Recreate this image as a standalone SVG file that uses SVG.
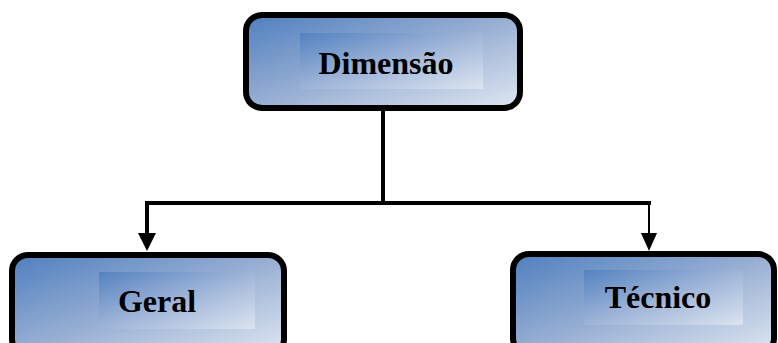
<svg xmlns="http://www.w3.org/2000/svg" width="778" height="343" viewBox="0 0 778 343">
<defs>
<linearGradient id="g" x1="0" y1="0" x2="1" y2="1">
<stop offset="0" stop-color="#4f7fbf"/>
<stop offset="0.5" stop-color="#98afd3"/>
<stop offset="1" stop-color="#dfe7f2"/>
</linearGradient>
<linearGradient id="gi" x1="0" y1="0" x2="1" y2="1">
<stop offset="0" stop-color="#4f7fbf"/>
<stop offset="0.5" stop-color="#9fb5d8"/>
<stop offset="1" stop-color="#dfe7f2"/>
</linearGradient>
</defs>
<style>
.box{fill:url(#g);stroke:#000;stroke-width:6}
.inner{fill:url(#gi);opacity:0.85}
.lbl{font-family:"Liberation Serif","Times New Roman",serif;font-weight:bold;font-size:32px;fill:#000;text-anchor:middle}
.conn{fill:none;stroke:#000;stroke-linejoin:miter}
</style>
<g id="connectors">
<path class="conn" stroke-width="4" d="M383,110 L383,203"/>
<path class="conn" stroke-width="4" d="M145,203 L651,203"/>
<path class="conn" stroke-width="4" d="M147,201 L147,236"/>
<path d="M138,233 L156,233 L147,251 z" fill="#000"/>
<path class="conn" stroke-width="2" d="M649,203 L649,236"/>
<path d="M641,233 L657,233 L649,251 z" fill="#000"/>
</g>
<g id="node-dimensao">
<rect class="box" x="246" y="15" width="274" height="93" rx="16"/>
<rect class="inner" x="300" y="33" width="183" height="56"/>
<text class="lbl" x="386" y="74">Dimensão</text>
</g>
<g id="node-geral">
<rect class="box" x="12" y="255" width="272" height="100" rx="16"/>
<rect class="inner" x="99" y="272" width="156" height="57"/>
<text class="lbl" x="157" y="312">Geral</text>
</g>
<g id="node-tecnico">
<rect class="box" x="513" y="254" width="261" height="100" rx="16"/>
<rect class="inner" x="584" y="270" width="159" height="55"/>
<text class="lbl" x="658" y="308">Técnico</text>
</g>
</svg>
